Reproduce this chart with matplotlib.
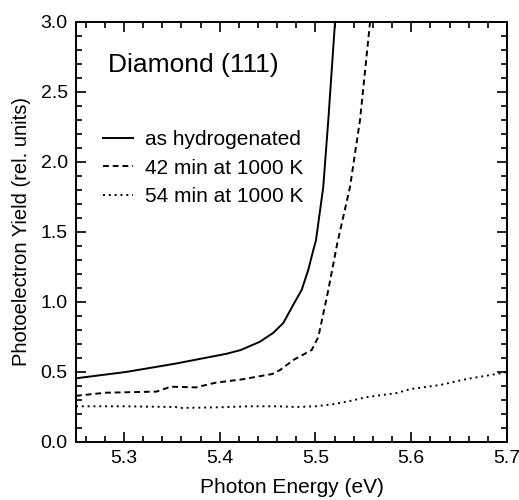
import numpy as np
import matplotlib.pyplot as plt
from matplotlib.ticker import MultipleLocator

plt.rcParams['font.family'] = ['Liberation Sans', 'DejaVu Sans']

# as hydrogenated
e_h = [5.25, 5.302, 5.354, 5.407, 5.422, 5.442, 5.456, 5.4664, 5.4768, 5.4856,
       5.4925, 5.4977, 5.5005, 5.5081, 5.5134, 5.5204]
y_h = [0.455, 0.50, 0.56, 0.63, 0.657, 0.716, 0.78, 0.85, 0.98, 1.086,
       1.23, 1.37, 1.44, 1.82, 2.30, 3.0]

# 42 min at 1000 K
e_42 = [5.25, 5.281, 5.334, 5.349, 5.375, 5.396, 5.424, 5.442, 5.455, 5.463,
        5.477, 5.496, 5.503, 5.5134, 5.5228, 5.536, 5.5465, 5.557]
y_42 = [0.33, 0.352, 0.36, 0.395, 0.39, 0.424, 0.448, 0.47, 0.486, 0.514,
        0.586, 0.657, 0.75, 1.086, 1.42, 1.82, 2.30, 3.0]

# 54 min at 1000 K
e_54 = [5.25, 5.30, 5.354, 5.357, 5.40, 5.43, 5.46, 5.48, 5.50, 5.5186,
        5.536, 5.553, 5.585, 5.599, 5.63, 5.658, 5.6926, 5.70]
y_54 = [0.255, 0.255, 0.25, 0.243, 0.248, 0.255, 0.255, 0.25, 0.255, 0.27,
        0.293, 0.32, 0.35, 0.378, 0.407, 0.45, 0.49, 0.50]

fig = plt.figure(figsize=(5.19, 5.0), dpi=100)
ax = fig.add_axes([0.1464, 0.116, 0.8306, 0.84])

ax.plot(e_h, y_h, color='black', lw=1.4, ls='-', label='as hydrogenated')
ax.plot(e_42, y_42, color='black', lw=1.4, ls=(0, (3, 2)), label='42 min at 1000 K')
ax.plot(e_54, y_54, color='black', lw=1.4, ls=(0, (1, 2)), label='54 min at 1000 K')

ax.set_xlim(5.25, 5.7)
ax.set_ylim(0, 3.0)
ax.xaxis.set_major_locator(MultipleLocator(0.1))
ax.xaxis.set_minor_locator(MultipleLocator(0.02))
ax.yaxis.set_major_locator(MultipleLocator(0.5))
ax.yaxis.set_minor_locator(MultipleLocator(0.1))
ax.tick_params(which='both', direction='in', top=True, right=True, labelsize=14, width=1.2)
ax.tick_params(which='major', length=7, pad=6)
ax.tick_params(which='minor', length=4)
ax.set_xticks([5.3, 5.4, 5.5, 5.6, 5.7])
ax.set_xticklabels(['5.3', '5.4', '5.5', '5.6', '5.7'])
ax.set_yticks([0.0, 0.5, 1.0, 1.5, 2.0, 2.5, 3.0])
ax.set_yticklabels(['0.0', '0.5', '1.0', '1.5', '2.0', '2.5', '3.0'])
for s in ax.spines.values():
    s.set_linewidth(1.4)

ax.set_xlabel('Photon Energy (eV)', fontsize=15, labelpad=8)
ax.set_ylabel('Photoelectron Yield (rel. units)', fontsize=14.5, labelpad=7)

ax.text(0.074, 0.898, 'Diamond (111)', transform=ax.transAxes, fontsize=19, va='center')
ax.legend(loc='upper left', bbox_to_anchor=(0.0186, 0.787), frameon=False, fontsize=15,
          handlelength=1.45, handletextpad=0.58, labelspacing=0.45)

fig.savefig('out.png', dpi=100)
